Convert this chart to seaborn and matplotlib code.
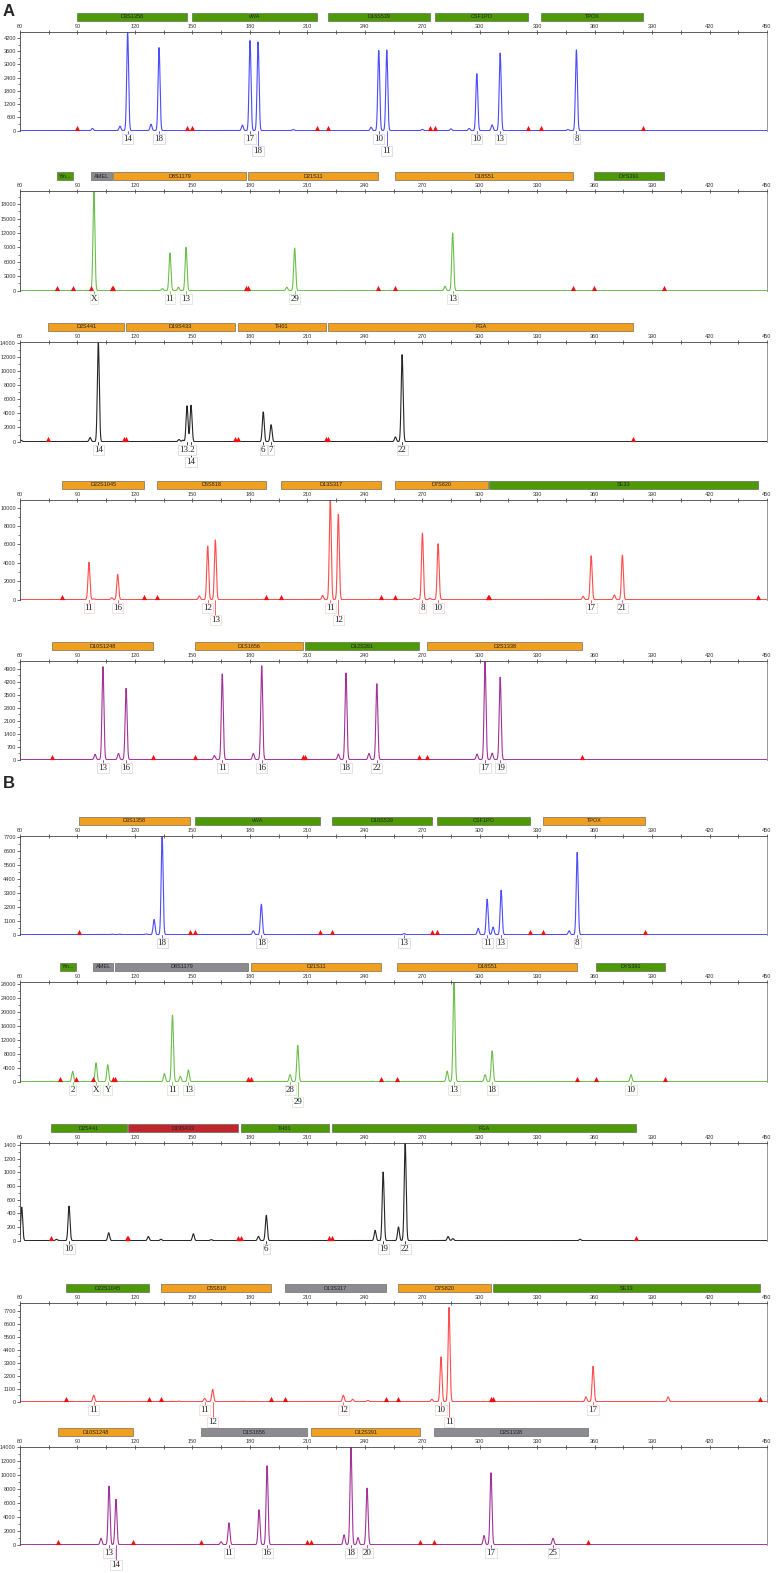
import numpy as np
import pandas as pd
import matplotlib
matplotlib.use("Agg")
import matplotlib.pyplot as plt
from matplotlib.patches import Rectangle
from matplotlib.ticker import MultipleLocator, AutoMinorLocator
import seaborn as sns

# ---- panel A: loci (name, start bp, end bp, bar colour), peaks (bp, RFU), calls (bp, allele, row)
A1_LOCI = [("D3S1358", 89.6, 147.0, "g"), ("vWA", 150.0, 215.0, "g"), ("D16S539", 221.0, 274.0, "g"),
           ("CSF1PO", 276.7, 325.0, "g"), ("TPOX", 332.2, 385.0, "g")]
A1_PEAKS = [(97.8, 100), (112.2, 200), (116.2, 4450), (128.4, 290), (132.6, 3760), (176.1, 250),
            (180.1, 4080), (184.3, 4020), (202.6, 50), (243.3, 150), (247.3, 3630), (251.5, 3650),
            (270.0, 60), (285.0, 80), (294.5, 100), (298.5, 2580), (306.5, 260), (310.7, 3510),
            (346.0, 50), (350.5, 3660)]
A1_CALLS = [(116.2, "14", 1), (132.6, "18", 1), (180.1, "17", 1), (184.3, "18", 2), (247.3, "10", 1),
            (251.5, "11", 2), (298.5, "10", 1), (310.7, "13", 1), (350.5, "8", 1)]

A2_LOCI = [("Yin...", 79.5, 87.8, "g"), ("AMEL", 96.9, 107.9, "k"), ("D8S1179", 108.7, 177.9, "o"),
           ("D21S11", 179.2, 247.1, "o"), ("D18S51", 255.8, 348.9, "o"), ("DYS391", 359.9, 396.3, "g")]
A2_PEAKS = [(98.6, 20600), (134.3, 400), (138.3, 7830), (142.7, 700), (146.7, 9000), (199.3, 700),
            (203.4, 8860), (281.9, 900), (285.9, 12000)]
A2_CALLS = [(98.6, "X", 1), (138.3, "11", 1), (146.7, "13", 1), (203.4, "29", 1), (285.9, "13", 1)]

A3_LOCI = [("D2S441", 74.8, 114.5, "o"), ("D19S433", 115.4, 172.3, "o"), ("TH01", 174.0, 219.8, "o"),
           ("FGA", 221.0, 380.0, "o")]
A3_PEAKS = [(60.5, 200), (96.6, 570), (100.9, 14000), (143.0, 300), (145.0, 200), (147.2, 5060),
            (149.3, 5150), (187.0, 4200), (191.1, 2390), (256.0, 660), (259.5, 12300)]
A3_CALLS = [(100.9, "14", 1), (147.2, "13.2", 1), (149.3, "14", 2), (187.0, "6", 1), (191.1, "7", 1),
            (259.5, "22", 1)]

A4_LOCI = [("D22S1045", 82.1, 124.9, "o"), ("D5S818", 131.5, 188.5, "o"), ("D13S317", 196.1, 248.5, "o"),
           ("D7S820", 256.0, 304.2, "o"), ("SE33", 304.9, 445.2, "g")]
A4_PEAKS = [(96.0, 4060), (98.5, 80), (107.9, 200), (111.0, 2740), (153.6, 400), (158.0, 5820),
            (162.0, 6490), (218.0, 450), (222.0, 11000), (226.2, 9270), (265.9, 150), (270.1, 7220),
            (274.0, 150), (278.3, 6070), (354.0, 350), (358.2, 4770), (370.3, 500), (374.5, 4840)]
A4_CALLS = [(96.0, "11", 1), (111.0, "16", 1), (158.0, "12", 1), (162.0, "13", 2), (222.0, "11", 1),
            (226.2, "12", 2), (270.1, "8", 1), (278.3, "10", 1), (358.2, "17", 1), (374.5, "21", 1)]

A5_LOCI = [("D10S1248", 76.9, 129.3, "o"), ("D1S1656", 151.5, 207.6, "o"), ("D12S391", 208.7, 268.4, "g"),
           ("D2S1338", 272.5, 353.5, "o")]
A5_PEAKS = [(99.2, 290), (103.3, 5020), (111.4, 330), (115.4, 3850), (161.5, 220), (165.6, 4630),
            (181.8, 330), (186.2, 5070), (226.2, 300), (230.2, 4680), (242.2, 330), (246.3, 4100),
            (298.6, 300), (302.8, 5300), (306.5, 350), (310.7, 4450)]
A5_CALLS = [(103.3, "13", 1), (115.4, "16", 1), (165.6, "11", 1), (186.2, "16", 1), (230.2, "18", 1),
            (246.3, "22", 1), (302.8, "17", 1), (310.7, "19", 1)]

# ---- panel B
B1_LOCI = [("D3S1358", 91.0, 148.6, "o"), ("vWA", 151.4, 216.7, "g"), ("D16S539", 222.8, 275.1, "g"),
           ("CSF1PO", 277.8, 326.3, "g"), ("TPOX", 333.1, 386.4, "o")]
B1_PEAKS = [(108.0, 40), (112.0, 40), (125.8, 50), (130.0, 1200), (134.2, 7900), (181.8, 300),
            (186.0, 2400), (260.5, 80), (299.2, 500), (303.9, 2800), (307.0, 600), (311.2, 3500),
            (346.7, 300), (350.9, 6500)]
B1_CALLS = [(134.2, "18", 1), (186.0, "18", 1), (260.5, "13", 1), (303.9, "11", 1), (311.2, "13", 1),
            (350.9, "8", 1)]

B2_LOCI = [("Yin...", 80.9, 89.2, "g"), ("AMEL", 98.3, 108.7, "k"), ("D8S1179", 109.6, 179.2, "k"),
           ("D21S11", 180.4, 248.5, "o"), ("D18S51", 256.9, 350.9, "o"), ("DYS391", 360.8, 396.8, "g")]
B2_PEAKS = [(87.5, 2950), (99.7, 5340), (105.8, 4850), (135.4, 2290), (139.6, 19050), (143.7, 1520),
            (147.9, 3340), (201.0, 2000), (205.0, 10370), (283.0, 3000), (286.6, 28600), (302.8, 2000),
            (306.5, 8800), (379.0, 2000)]
B2_CALLS = [(87.5, "2", 1), (99.7, "X", 1), (105.8, "Y", 1), (139.6, "11", 1), (147.9, "13", 1),
            (201.0, "28", 1), (205.0, "29", 2), (286.6, "13", 1), (306.5, "18", 1), (379.0, "10", 1)]

B3_LOCI = [("D2S441", 76.0, 115.7, "g"), ("D19S433", 116.6, 173.7, "r"), ("TH01", 175.2, 221.5, "g"),
           ("FGA", 222.8, 381.7, "g")]
B3_PEAKS = [(60.9, 490), (79.0, 20), (85.6, 505), (106.3, 115), (127.0, 60), (133.6, 20), (150.5, 100),
            (159.8, 15), (184.5, 62), (188.6, 371), (245.4, 152), (249.6, 1005), (257.6, 200),
            (261.1, 1440), (283.5, 60), (286.0, 30), (352.4, 20)]
B3_CALLS = [(85.6, "10", 1), (188.6, "6", 1), (249.6, "19", 1), (261.1, "22", 1)]

B4_LOCI = [("D22S1045", 84.2, 127.2, "g"), ("D5S818", 133.8, 190.9, "o"), ("D13S317", 198.5, 251.0, "k"),
           ("D7S820", 257.4, 306.0, "o"), ("SE33", 307.0, 446.4, "g")]
B4_PEAKS = [(98.5, 540), (142.9, 40), (156.4, 280), (160.6, 1040), (176.0, 20), (228.8, 540),
            (233.7, 200), (241.6, 110), (275.0, 200), (279.8, 3800), (284.0, 8000), (355.5, 400),
            (359.2, 3000), (398.4, 400)]
B4_CALLS = [(98.5, "11", 1), (156.4, "11", 1), (160.6, "12", 2), (228.8, "12", 1), (279.8, "10", 1),
            (284.0, "11", 2), (359.2, "17", 1)]

B5_LOCI = [("D10S1248", 79.8, 119.0, "o"), ("D1S1656", 154.5, 209.9, "k"), ("D12S391", 212.0, 268.9, "o"),
           ("D2S1338", 276.2, 356.6, "k")]
B5_PEAKS = [(102.3, 900), (106.5, 8400), (110.1, 6500), (165.0, 400), (169.1, 3100), (184.8, 5000),
            (189.0, 11300), (229.2, 1400), (232.8, 14000), (236.5, 1000), (241.2, 8100), (302.3, 1300),
            (305.9, 10300), (338.3, 900)]
B5_CALLS = [(106.5, "13", 1), (110.1, "14", 2), (169.1, "11", 1), (189.0, "16", 1), (232.8, "18", 1),
            (241.2, "20", 1), (305.9, "17", 1), (338.3, "25", 1)]

# y range (ymax, tick step) per panel
Y_RANGES = [(4470, 600), (20750, 3000), (14100, 2000), (10830, 2000), (5330, 700),
            (7800, 1100), (28570, 4000), (1430, 200), (8380, 1100), (14000, 2000)]

# ---- style / layout
DYES = ["#4b4bff", "#6cc04a", "#262626", "#ff4c4c", "#a3329a"]
BOX_EDGE = ["#c4c4e6", "#c8e0c0", "#cccccc", "#f0c8c8", "#dcc4dc"]
BAR_COLORS = {"g": "#4e9a06", "o": "#f0a01e", "k": "#8b8b90", "r": "#c0262c"}
PANEL_PX = [(32, 131), (191, 291), (342, 442), (500, 600), (661, 760),
            (836, 935), (982, 1082), (1143, 1241), (1303, 1402), (1447, 1545)]
W, H = 778, 1573
LEFT, RIGHT = 20, 767

sns.set_theme(style="white")
plt.rcParams["font.family"] = ["Liberation Sans", "DejaVu Sans"]

panels = [(A1_LOCI, A1_PEAKS, A1_CALLS), (A2_LOCI, A2_PEAKS, A2_CALLS), (A3_LOCI, A3_PEAKS, A3_CALLS),
          (A4_LOCI, A4_PEAKS, A4_CALLS), (A5_LOCI, A5_PEAKS, A5_CALLS),
          (B1_LOCI, B1_PEAKS, B1_CALLS), (B2_LOCI, B2_PEAKS, B2_CALLS), (B3_LOCI, B3_PEAKS, B3_CALLS),
          (B4_LOCI, B4_PEAKS, B4_CALLS), (B5_LOCI, B5_PEAKS, B5_CALLS)]

fig = plt.figure(figsize=(W / 100, H / 100), dpi=100)
bp = np.linspace(60, 450, 7801)

for i, (loci, peaks, calls) in enumerate(panels):
    top, bottom = PANEL_PX[i]
    hpx = bottom - top
    ax = fig.add_axes([LEFT / W, 1 - bottom / H, (RIGHT - LEFT) / W, hpx / H])
    color = DYES[i % 5]
    ymax, ystep = Y_RANGES[i]

    # trace: sum of peak shapes on a flat baseline
    rfu = np.zeros_like(bp)
    for pos, h in peaks:
        rfu += h * np.exp(-0.5 * ((bp - pos) / 0.5) ** 2)
    trace = pd.DataFrame({"bp": bp, "rfu": rfu})
    sns.lineplot(data=trace, x="bp", y="rfu", ax=ax, color=color, lw=0.8)

    # bin edge markers
    edges = pd.DataFrame({"bp": [v for l in loci for v in (l[1], l[2])]})
    edges["rfu"] = ymax * 0.025
    sns.scatterplot(data=edges, x="bp", y="rfu", ax=ax, marker="^", color="#ee1111",
                    s=14, linewidth=0, zorder=5)

    ax.set_xlim(60, 450)
    ax.set_ylim(-ymax * 0.004, ymax)
    ax.set_xlabel("")
    ax.set_ylabel("")

    ax.xaxis.tick_top()
    ax.xaxis.set_major_locator(MultipleLocator(30))
    ax.xaxis.set_minor_locator(MultipleLocator(15))
    ax.tick_params(axis="x", which="both", direction="inout", length=3, width=0.5,
                   labelsize=4, pad=1, colors="#333333")
    ax.yaxis.set_major_locator(MultipleLocator(ystep))
    ax.yaxis.set_minor_locator(AutoMinorLocator(2))
    ax.tick_params(axis="y", which="major", direction="out", length=2, width=0.5,
                   labelsize=4, pad=1, colors="#333333", left=True)
    ax.tick_params(axis="y", which="minor", direction="out", length=1.2, width=0.4, left=True)
    for side in ["top", "left"]:
        ax.spines[side].set_color("#444444")
        ax.spines[side].set_linewidth(0.6)
    ax.spines["right"].set_color("#888888")
    ax.spines["right"].set_linewidth(0.6)
    ax.spines["bottom"].set_visible(False)

    trans = ax.get_xaxis_transform()
    # locus bars above the size axis
    for name, start, end, c in loci:
        ax.add_patch(Rectangle((start, 1 + 11 / hpx), end - start, 8 / hpx, transform=trans,
                               clip_on=False, facecolor=BAR_COLORS[c], edgecolor="#555555", lw=0.4))
        ax.text((start + end) / 2, 1 + 15 / hpx, name, transform=trans, ha="center", va="center",
                fontsize=4, color="#222222", clip_on=False)

    # allele calls
    for pos, lab, row in calls:
        yoff = -(8 if row == 1 else 20) / hpx
        ax.plot([pos, pos], [0, yoff], transform=trans, color=color, lw=0.6, clip_on=False)
        ax.text(pos, yoff, lab, transform=trans, ha="center", va="center", fontsize=6.5,
                family=["Liberation Serif", "DejaVu Serif"], color="#222222",
                bbox=dict(boxstyle="square,pad=0.12", fc="white", ec=BOX_EDGE[i % 5], lw=0.4))

fig.text(3 / W, 1 - 11 / H, "A", fontsize=12, weight="bold", va="center", ha="left")
fig.text(3 / W, 1 - 784 / H, "B", fontsize=12, weight="bold", va="center", ha="left")

fig.savefig("out.png", dpi=100, facecolor="white")
